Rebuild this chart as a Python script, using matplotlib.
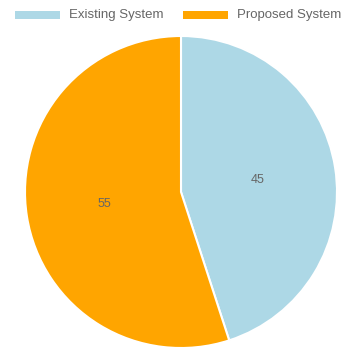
import matplotlib.pyplot as plt
from matplotlib.patches import Rectangle

labels = ["Existing System", "Proposed System"]
values = [45, 55]
colors = ["#ADD8E6", "#FFA500"]

W, H = 351, 347
plt.rcParams["font.family"] = ["Liberation Sans", "DejaVu Sans"]

fig = plt.figure(figsize=(W / 100, H / 100), dpi=100)
ax = fig.add_axes([0, 0, 1, 1])
ax.set_xlim(0, W)
ax.set_ylim(0, H)
ax.set_aspect("equal")
ax.axis("off")

wedges, texts = ax.pie(
    values,
    colors=colors,
    labels=[str(v) for v in values],
    labeldistance=0.5,
    startangle=90,
    counterclock=False,
    center=(181, H - 192),
    radius=156,
    frame=True,
    wedgeprops=dict(edgecolor="white", linewidth=1.5),
    textprops=dict(color="#666666", fontsize=9, ha="center", va="center"),
)
ax.set_xlim(0, W)
ax.set_ylim(0, H)
ax.axis("off")

# legend drawn by hand to match the chart.js look
x = 15
for lab, col in zip(labels, colors):
    ax.add_patch(Rectangle((x, H - 18.5), 45, 7.5, facecolor=col, edgecolor="none"))
    t = ax.text(x + 54, H - 15, lab, color="#666666", fontsize=9.5, va="center", ha="left")
    x = 183

fig.savefig("out.png", dpi=100)
